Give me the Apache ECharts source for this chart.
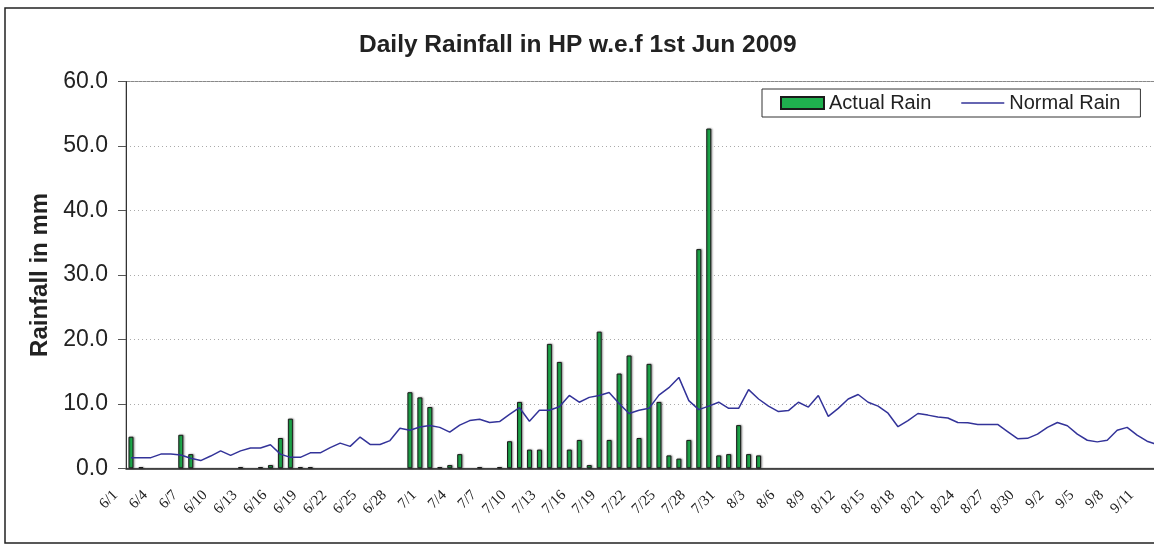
<!DOCTYPE html>
<html>
<head>
<meta charset="utf-8">
<title>Daily Rainfall in HP</title>
<script src="https://cdn.jsdelivr.net/npm/echarts@6/dist/echarts.min.js"></script>
<style>
  html, body { margin: 0; padding: 0; background: #fff; overflow: hidden; }
  #myEchart { width: 1200px; height: 552px; }
</style>
</head>
<body>
<div id="myEchart"></div>
<script>
// dates 6/1 .. 9/12
var days = [
  '6/1','6/2','6/3','6/4','6/5','6/6','6/7','6/8','6/9','6/10',
  '6/11','6/12','6/13','6/14','6/15','6/16','6/17','6/18','6/19','6/20',
  '6/21','6/22','6/23','6/24','6/25','6/26','6/27','6/28','6/29','6/30',
  '7/1','7/2','7/3','7/4','7/5','7/6','7/7','7/8','7/9','7/10',
  '7/11','7/12','7/13','7/14','7/15','7/16','7/17','7/18','7/19','7/20',
  '7/21','7/22','7/23','7/24','7/25','7/26','7/27','7/28','7/29','7/30','7/31',
  '8/1','8/2','8/3','8/4','8/5','8/6','8/7','8/8','8/9','8/10',
  '8/11','8/12','8/13','8/14','8/15','8/16','8/17','8/18','8/19','8/20',
  '8/21','8/22','8/23','8/24','8/25','8/26','8/27','8/28','8/29','8/30','8/31',
  '9/1','9/2','9/3','9/4','9/5','9/6','9/7','9/8','9/9','9/10','9/11','9/12'
];

// actual rain (mm), no data after 8/4
var actualRain = [
  4.9, 0.2, 0, 0, 0, 5.2, 2.2, 0, 0, 0,
  0, 0.2, 0, 0.2, 0.5, 4.7, 7.7, 0.2, 0.2, 0,
  0, 0, 0, 0, 0, 0, 0, 0, 11.8, 11.0,
  9.5, 0.2, 0.5, 2.2, 0, 0.2, 0, 0.2, 4.2, 10.3,
  2.9, 2.9, 19.3, 16.5, 2.9, 4.4, 0.5, 21.2, 4.4, 14.7,
  17.5, 4.7, 16.2, 10.3, 2.0, 1.5, 4.4, 34.0, 52.7, 2.0, 2.2,
  6.7, 2.2, 2.0
];

// normal rain (mm)
var normalRain = [
  1.65, 1.65, 1.65, 2.2, 2.2, 2.05, 1.55, 1.2, 1.9, 2.7,
  2.0, 2.7, 3.15, 3.15, 3.65, 2.2, 1.7, 1.7, 2.4, 2.4,
  3.2, 3.9, 3.4, 4.85, 3.7, 3.7, 4.3, 6.2, 5.9, 6.4,
  6.65, 6.35, 5.6, 6.7, 7.4, 7.6, 7.1, 7.25, 8.35, 9.4,
  7.3, 9.0, 9.0, 9.55, 11.3, 10.25, 11.0, 11.3, 11.75, 10.05,
  8.5, 9.0, 9.3, 11.35, 12.5, 14.1, 10.5, 9.1, 9.65, 10.25, 9.3,
  9.3, 12.2, 10.75, 9.65, 8.8, 8.95, 10.25, 9.5, 11.3, 8.05,
  9.3, 10.75, 11.45, 10.25, 9.65, 8.55, 6.45, 7.4, 8.5, 8.25,
  7.95, 7.8, 7.1, 7.05, 6.8, 6.8, 6.8, 5.7, 4.6, 4.65, 5.3,
  6.35, 7.1, 6.6, 5.3, 4.35, 4.1, 4.35, 5.9, 6.35, 5.15, 4.2, 3.7
];

var yTicks = [0, 10, 20, 30, 40, 50, 60];

var myEchart = echarts.init(document.getElementById('myEchart'));

// zero days get no bar at all (like the original)
var barData = actualRain.map(function (v) { return v === 0 ? '-' : v; });

var option = {
  animation: false,
  backgroundColor: '#fff',
  title: {
    text: 'Daily Rainfall in HP w.e.f 1st Jun 2009',
    left: 359,
    top: 33,
    padding: 0,
    textStyle: {
      fontFamily: 'Liberation Sans',
      fontSize: 24.5,
      fontWeight: 'bold',
      color: '#222'
    }
  },
  legend: {
    data: [
      { name: 'Actual Rain', icon: 'rect' },
      { name: 'Normal Rain', icon: 'path://M0,0H44V1.5H0Z' }
    ],
    left: 762,
    top: 89,
    padding: [4, 20, 4, 18],
    itemWidth: 43,
    itemHeight: 12,
    itemGap: 30,
    selectedMode: false,
    borderColor: '#333',
    borderWidth: 1,
    backgroundColor: '#fff',
    textStyle: { fontFamily: 'Liberation Sans', fontSize: 20, color: '#222' }
  },
  graphic: [{
    type: 'rect',
    silent: true,
    shape: { x: 5, y: 8, width: 1185, height: 535 },
    style: { fill: 'none', stroke: '#222', lineWidth: 1.5 }
  }],
  grid: {
    left: 126,
    top: 81.5,
    width: 1036,
    height: 386.8,
    show: true,
    borderColor: '#888',
    borderWidth: 1
  },
  xAxis: {
    type: 'category',
    data: days,
    boundaryGap: true,
    axisLine: { lineStyle: { color: '#222', width: 1.5 } },
    axisTick: { interval: 2, length: 6, lineStyle: { color: '#777' } },
    axisLabel: {
      interval: 2,
      rotate: 45,
      margin: 9,
      padding: [0, 22, 0, 0],
      fontFamily: 'Liberation Serif',
      fontSize: 15,
      color: '#222'
    }
  },
  yAxis: {
    type: 'value',
    min: yTicks[0],
    max: yTicks[yTicks.length - 1],
    interval: 10,
    name: 'Rainfall in mm',
    nameLocation: 'middle',
    nameGap: 74,
    nameTextStyle: { fontFamily: 'Liberation Sans', fontSize: 24, fontWeight: 'bold', color: '#222' },
    axisLine: { show: true, lineStyle: { color: '#333', width: 1 } },
    axisTick: { show: true, length: 8, lineStyle: { color: '#555' } },
    axisLabel: {
      margin: 18,
      fontFamily: 'Liberation Sans',
      fontSize: 23,
      color: '#222',
      formatter: function (v) { return v.toFixed(1); }
    },
    splitLine: { lineStyle: { color: '#aaa', type: [1, 3] } }
  },
  series: [
    {
      name: 'Actual Rain',
      type: 'bar',
      data: barData,
      barWidth: 5,
      itemStyle: {
        color: '#1fb04e',
        borderColor: '#1a1a1a',
        borderWidth: 1,
        shadowColor: 'rgba(0,0,0,0.4)',
        shadowBlur: 2,
        shadowOffsetX: 1
      }
    },
    {
      name: 'Normal Rain',
      type: 'line',
      data: normalRain,
      symbol: 'none',
      lineStyle: { color: '#333399', width: 1.5 },
      itemStyle: { color: '#333399' }
    }
  ]
};

myEchart.setOption(option);
</script>
</body>
</html>
